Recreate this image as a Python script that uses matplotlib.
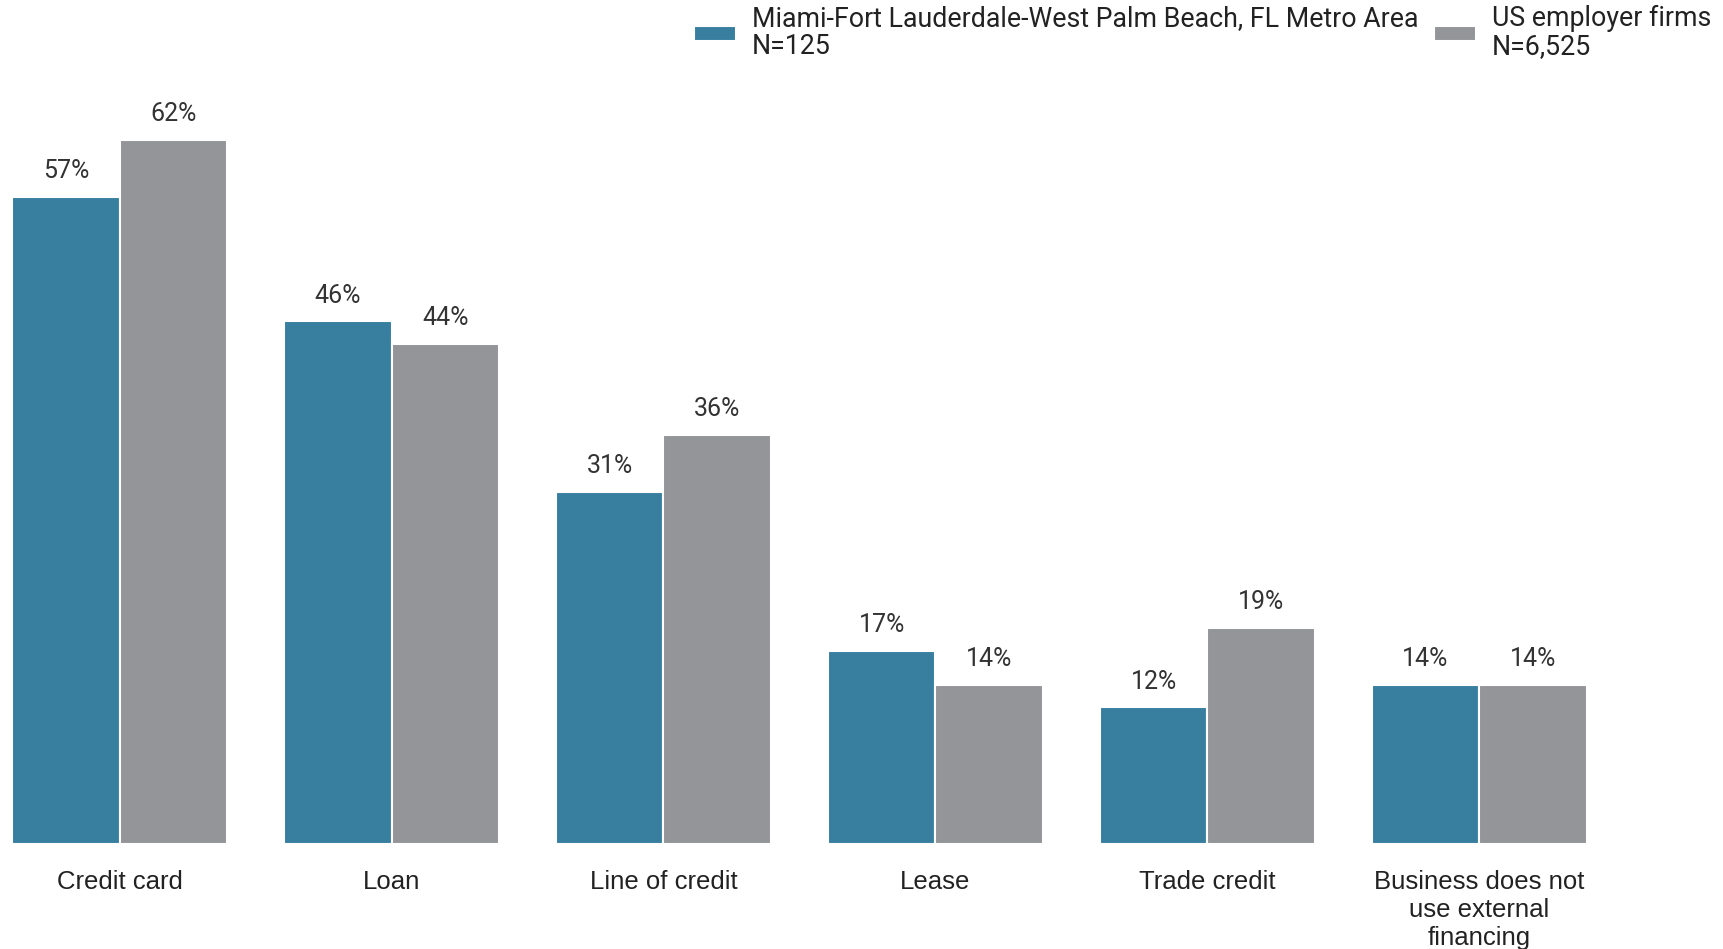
import numpy as np
import matplotlib
matplotlib.use("Agg")
import matplotlib.pyplot as plt

categories = ["Credit card", "Loan", "Line of credit", "Lease", "Trade credit",
              "Business does not\nuse external\nfinancing"]
miami = [57, 46, 31, 17, 12, 14]
us_firms = [62, 44, 36, 14, 19, 14]
series_names = ["Miami-Fort Lauderdale-West Palm Beach, FL Metro Area\nN=125",
                "US employer firms\nN=6,525"]

blue = "#387e9f"
gray = "#949598"

fig = plt.figure(figsize=(17.24, 9.49), dpi=100)
ax = fig.add_axes([0, 0.111, 1, 0.8374])

x = np.arange(len(categories))
w = 0.395
b1 = ax.bar(x - w / 2, miami, w, color=blue, edgecolor="white", linewidth=1.5,
            label=series_names[0])
b2 = ax.bar(x + w / 2, us_firms, w, color=gray, edgecolor="white", linewidth=1.5,
            label=series_names[1])

for bars in (b1, b2):
    for r in bars:
        ax.annotate(f"{r.get_height():.0f}%", (r.get_x() + r.get_width() / 2, r.get_height()),
                    xytext=(0, 10), textcoords="offset points", ha="center", va="bottom",
                    fontsize=18, color="#333333", family="Roboto")

ax.set_xlim(-0.44, 5.9)
ax.set_ylim(0, 70)
ax.set_xticks(x)
ax.set_xticklabels(categories, fontsize=18.5, color="#222222", family="Liberation Sans",
                   linespacing=1.2)
ax.tick_params(axis="x", length=0, pad=19)
ax.set_yticks([])
for s in ax.spines.values():
    s.set_visible(False)

leg = fig.legend(handles=[b1, b2], loc="upper right", bbox_to_anchor=(1.002, 1.012),
                 borderaxespad=0.2, ncol=2, frameon=False,
                 prop={"family": "Roboto", "size": 19.3},
                 handlelength=1.55, handleheight=0.5, columnspacing=0.6,
                 handletextpad=0.6, labelcolor="#222222")
for t in leg.get_texts():
    t.set_linespacing(1.05)

fig.savefig("out.png", dpi=100)
